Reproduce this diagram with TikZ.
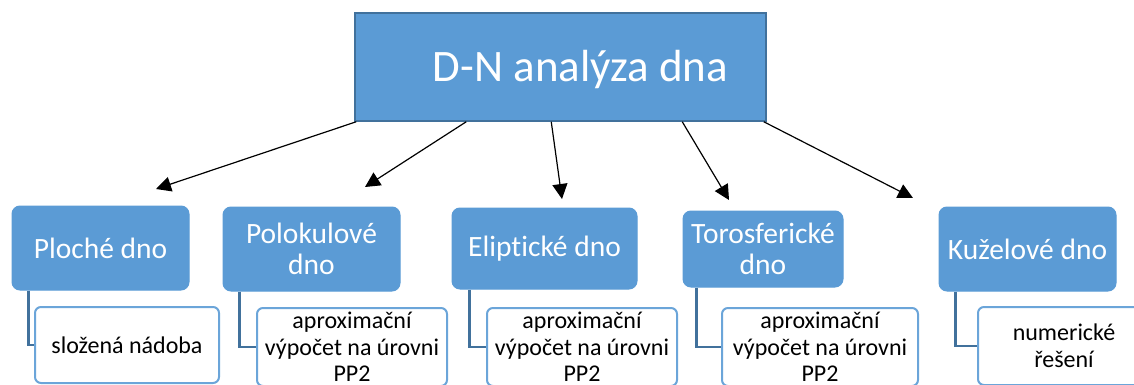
\documentclass[tikz,border=0pt]{standalone}
\usepackage{fontspec}
\setmainfont{Carlito}[Ligatures=NoCommon]
\usetikzlibrary{arrows.meta}
\definecolor{boxblue}{HTML}{5B9BD5}
\definecolor{edgeblue}{HTML}{41719C}
\tikzset{
  topbox/.style={draw=edgeblue, line width=1.5pt, fill=boxblue, text=white, inner sep=0pt,
    font=\fontsize{45}{52}\selectfont, text height=29pt, text depth=0pt},
  parentbox/.style={draw=boxblue, line width=1pt, fill=boxblue, rounded corners=8pt, text=white,
    inner sep=0pt, align=center, font=\fontsize{29.5}{31}\selectfont},
  childbox/.style={draw=boxblue!90!white, line width=2pt, fill=white, rounded corners=6pt, text=black,
    inner sep=0pt, align=center, font=\fontsize{24}{26.5}\selectfont},
  arr/.style={line width=1.2pt, -{Triangle[length=15pt,width=15pt]}},
  elbow/.style={draw=edgeblue, line width=2.2pt},
}
\begin{document}
\begin{tikzpicture}[x=1pt,y=-1pt]
\useasboundingbox (0,0) rectangle (1134,385);
% top
\node[topbox, minimum width=411pt, minimum height=108pt] (top) at (560.5,67) {\hspace*{40pt}D-N analýza dna};
% parents
\node[parentbox, minimum width=177pt, minimum height=84pt] (p1) at (100.5,248) {Ploché dno};
\node[parentbox, minimum width=177pt, minimum height=84pt] (p2) at (311.5,249) {Polokulové\\dno};
\node[parentbox, minimum width=185pt, minimum height=81pt] (p3) at (544.5,248.5) {Eliptické dno};
\node[parentbox, minimum width=160pt, minimum height=76pt] (p4) at (763,249) {Torosferické\\dno};
\node[parentbox, minimum width=177pt, minimum height=84pt] (p5) at (1027.5,249) {Kuželové dno};
% children
\node[childbox, minimum width=184pt, minimum height=76pt] (c1) at (127,345) {složená nádoba};
\node[childbox, minimum width=190pt, minimum height=78pt] (c2) at (352,347) {aproximační\\výpočet na úrovni\\PP2};
\node[childbox, minimum width=190pt, minimum height=78pt] (c3) at (582,347) {aproximační\\výpočet na úrovni\\PP2};
\node[childbox, minimum width=196pt, minimum height=78pt] (c4) at (820,347) {aproximační\\výpočet na úrovni\\PP2};
\node[childbox, minimum width=172pt, minimum height=78pt] (c5) at (1064,346) {numerické\\řešení};
% elbow connectors
\draw[elbow] ([xshift=17pt]p1.south west) |- (c1.west);
\draw[elbow] ([xshift=17pt]p2.south west) |- (c2.west);
\draw[elbow] ([xshift=18pt]p3.south west) |- (c3.west);
\draw[elbow] ([xshift=14pt]p4.south west) |- (c4.west);
\draw[elbow] ([xshift=17pt]p5.south west) |- (c5.west);
% arrow ends
\coordinate (a1) at (156,189);
\coordinate (a2) at (365,187);
\coordinate (a3) at (562,199);
\coordinate (a4) at (729,200);
\coordinate (a5) at (913,198);
\draw[arr] ([xshift=2pt]top.south west) -- (a1);
\draw[arr] ([xshift=112pt]top.south west) -- (a2);
\draw[arr] ([xshift=197pt]top.south west) -- (a3);
\draw[arr] ([xshift=328pt]top.south west) -- (a4);
\draw[arr] ([xshift=-3pt]top.south east) -- (a5);
\end{tikzpicture}
\end{document}
